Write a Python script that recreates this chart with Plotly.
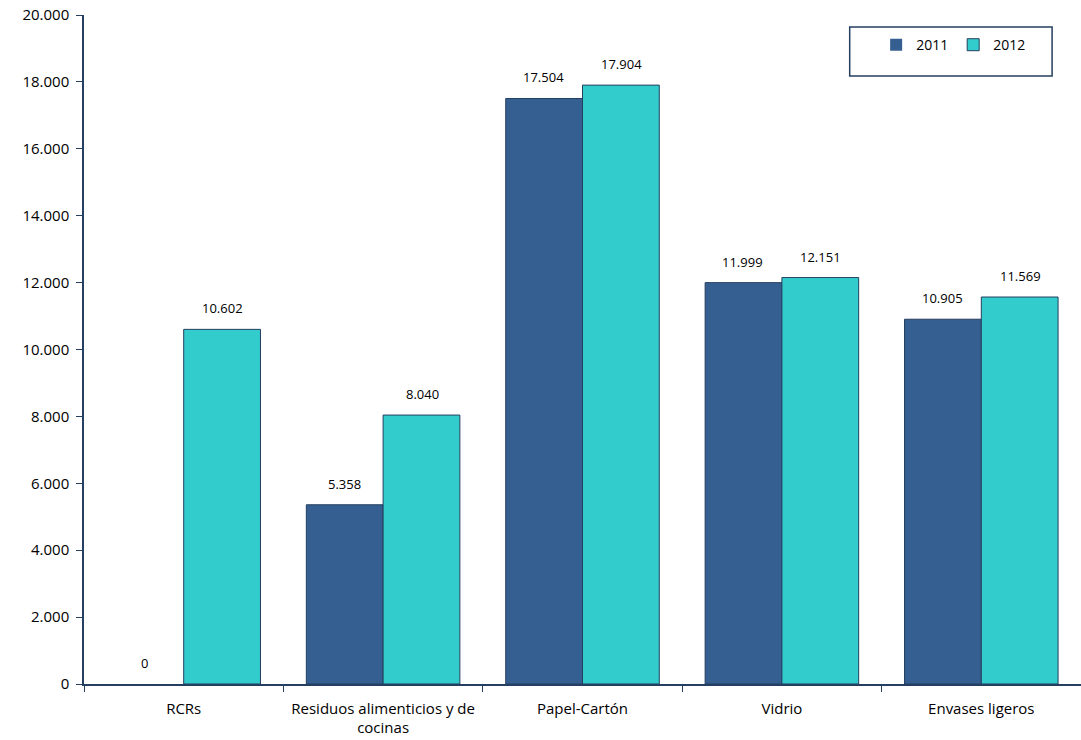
import plotly.graph_objects as go

categories = ["RCRs", "Residuos alimenticios y de<br>cocinas", "Papel-Cartón", "Vidrio", "Envases ligeros"]
values_2011 = [0, 5358, 17504, 11999, 10905]
values_2012 = [10602, 8040, 17904, 12151, 11569]
y_ticks = [0, 2000, 4000, 6000, 8000, 10000, 12000, 14000, 16000, 18000, 20000]

edge = "#243F60"
font_fam = "Open Sans, Liberation Sans, sans-serif"

def fmt(v):
    return f"{v:,d}".replace(",", ".")

fig = go.Figure()
fig.add_trace(go.Bar(
    name="2011", x=categories, y=values_2011,
    marker=dict(color="#365F91",
                line=dict(color=edge, width=[0 if v == 0 else 1 for v in values_2011])),
))
fig.add_trace(go.Bar(
    name="2012", x=categories, y=values_2012,
    marker=dict(color="#33CCCC",
                line=dict(color=edge, width=[0 if v == 0 else 1 for v in values_2012])),
))

annotations = []
for series, shift in ((values_2011, -39), (values_2012, 39)):
    for c, v in zip(categories, series):
        annotations.append(dict(
            x=c, y=v, xref="x", yref="y", text=fmt(v), showarrow=False,
            xshift=shift, yshift=10, yanchor="bottom",
            font=dict(size=13, color="#000000", family=font_fam),
        ))

fig.update_layout(
    width=1081, height=740,
    margin=dict(l=84, r=0, t=15, b=56),
    plot_bgcolor="white", paper_bgcolor="white",
    separators=",.",
    barmode="group", bargap=0.23, bargroupgap=0,
    font=dict(family=font_fam, size=14, color="#000000"),
    showlegend=True,
    legend=dict(orientation="h", x=0.95, y=0.955, xanchor="right", yanchor="middle",
                bgcolor="rgba(0,0,0,0)", borderwidth=0,
                font=dict(size=14, color="#000000"), itemwidth=30,
                traceorder="normal"),
    shapes=[dict(type="rect", xref="paper", yref="paper",
                 x0=0.768, x1=0.971, y0=0.909, y1=0.982,
                 line=dict(color=edge, width=1.5), fillcolor="rgba(0,0,0,0)")],
    annotations=annotations,
)
fig.update_yaxes(
    range=[0, 20000], tickvals=y_ticks, tickformat=",d",
    showgrid=False, zeroline=False,
    showline=True, linecolor=edge, linewidth=1.5,
    ticks="outside", ticklen=6, tickcolor=edge, ticklabelstandoff=4,
    tickfont=dict(size=15),
)
fig.update_xaxes(
    showgrid=False, showline=True, linecolor=edge, linewidth=1.5,
    ticks="outside", tickson="boundaries", ticklen=6, tickcolor=edge,
    ticklabelstandoff=10,
    tickfont=dict(size=15),
)

fig.write_html("out.html")
